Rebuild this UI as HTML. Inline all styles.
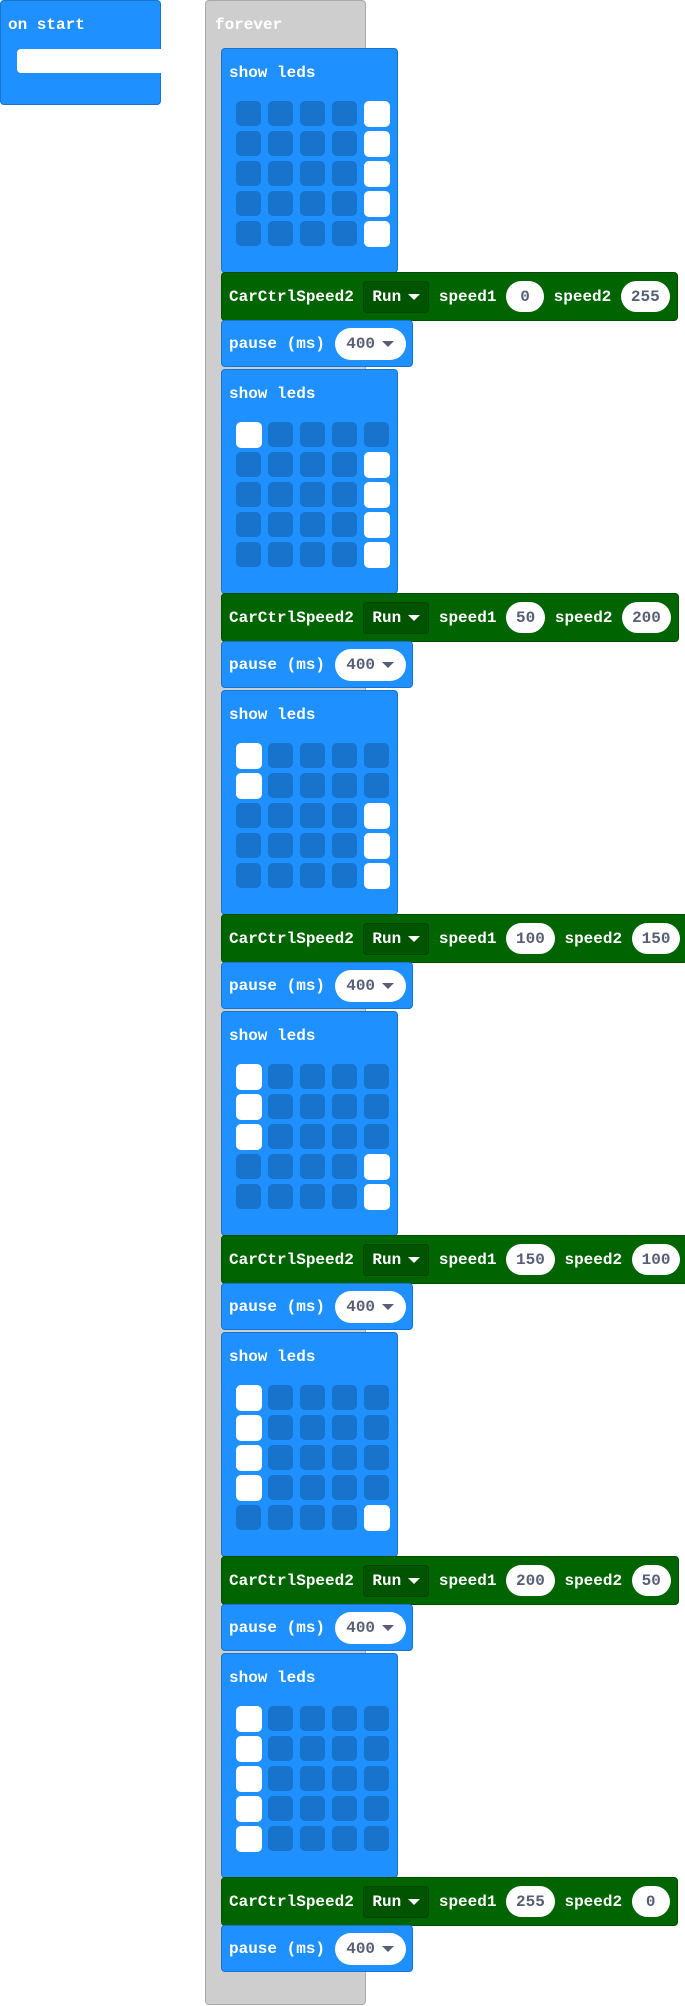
<!DOCTYPE html>
<html><head><meta charset="utf-8">
<style>
body{margin:0;width:685px;height:2006px;background:#fff;position:relative;overflow:hidden;font-family:"Liberation Mono","DejaVu Sans Mono",monospace;font-weight:bold;font-size:16px;color:#fff}
.a{position:absolute;box-sizing:border-box}
.blue{background:#1E90FF;border:1px solid #1873CC;border-radius:4px}
.green{background:#006400;border:1px solid #004d00;border-radius:4px;display:flex;align-items:center;padding-left:7px;white-space:pre}
.t{position:absolute;white-space:pre;line-height:20px}
.pill{background:#fff;color:#575E75;border-radius:17px;height:31px;min-width:38px;padding:0 10px;display:inline-flex;align-items:center;justify-content:center;box-sizing:border-box}
.dd{background:#005400;border:1px solid #004400;border-radius:4px;height:32px;padding:0 8px;display:inline-flex;align-items:center;box-sizing:border-box}
.led{position:absolute;width:25px;height:25px;border-radius:5px;background:#1873CC}
.led.on{background:#fff;width:26px;height:26px}
.tri{display:inline-block;width:0;height:0;border-left:6px solid transparent;border-right:6px solid transparent;border-top:6px solid currentColor;margin-left:7px}
</style></head><body>
<div class="a blue" style="left:0;top:0;width:161px;height:105px;background:#1E90FF">
  <span class="t" style="left:7px;top:14px">on start</span>
  <div class="a" style="left:16px;top:48px;width:145px;height:24px;background:#fff;border-radius:4px 0 0 4px"></div>
</div>
<div class="a" style="left:205px;top:0;width:161px;height:2005px;background:#CECECE;border:1px solid #AAAAAA;border-radius:4px">
  <span class="t" style="left:9px;top:14px">forever</span>
</div>
<div id="stack"></div>
<script>
const speed1=[0,50,100,150,200,255];
const speed2=[255,200,150,100,50,0];
const leftOn=[0,1,2,3,4,5];   // rows lit in column 0 (from top)
const rightOn=[5,4,3,2,1,0];  // rows lit in column 4 (from bottom)
const pauseMs=[400,400,400,400,400,400];
const stack=document.getElementById('stack');
function mk(cls,st,html){const d=document.createElement('div');d.className=cls;d.style.cssText=st;if(html)d.innerHTML=html;stack.appendChild(d);return d;}
for(let i=0;i<6;i++){
  const y=48+i*321;
  const s=mk('a blue','left:221px;top:'+y+'px;width:177px;height:225px');
  
  
  const lab=document.createElement('span');lab.className='t';lab.style.cssText='left:7px;top:14px';lab.textContent='show leds';s.appendChild(lab);
  
  
  for(let r=0;r<5;r++)for(let c=0;c<5;c++){
    const on=(c===0&&r<leftOn[i])||(c===4&&r>=5-rightOn[i]);
    const l=document.createElement('div');l.className='led'+(on?' on':'');
    l.style.left=(14+c*32)+'px';l.style.top=(52+r*30)+'px';
    
    
    s.appendChild(l);
  }
  const g=mk('a green','left:221px;top:'+(y+224)+'px;height:49px;padding-right:7px',
    '<span>CarCtrlSpeed2 </span><span class="dd">Run<span class="tri"></span></span><span> speed1 </span><span class="pill">'+speed1[i]+'</span><span> speed2 </span><span class="pill">'+speed2[i]+'</span>');
  
  
  const p=mk('a blue','left:221px;top:'+(y+272)+'px;width:192px;height:47px;display:flex;align-items:center;padding-left:7px;white-space:pre',
    '<span>pause (ms) </span><span class="pill" style="height:32px;width:71px">'+pauseMs[i]+'<span class="tri"></span></span>');
  
  
}
</script>
</body></html>
